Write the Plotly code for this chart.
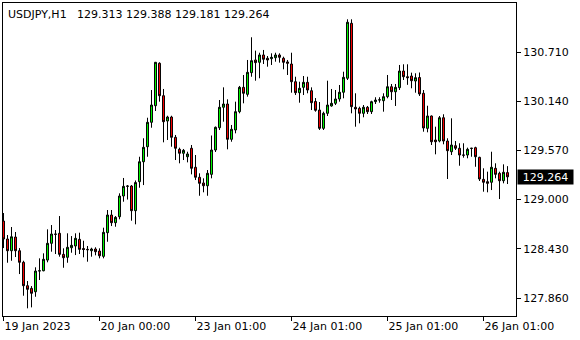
import plotly.graph_objects as go

opens = [128.752,128.544,128.408,128.567,128.408,128.274,128.003,127.972,127.933,128.173,
         128.176,128.300,128.494,128.602,128.610,128.366,128.332,128.443,128.463,128.540,
         128.434,128.424,128.408,128.428,128.405,128.343,128.617,128.822,128.733,128.802,
         129.042,129.158,129.158,128.872,129.208,129.439,129.613,129.896,130.088,130.580,
         130.204,129.911,129.957,129.722,129.583,129.537,129.497,129.595,129.375,129.259,
         129.193,129.161,129.293,129.575,129.833,130.070,130.108,129.699,129.807,130.019,
         130.301,130.220,130.471,130.618,130.591,130.676,130.638,130.633,130.644,130.676,
         130.638,130.595,130.571,130.366,130.239,130.301,130.359,130.262,130.137,130.038,
         129.826,130.000,130.085,130.116,130.166,130.244,130.406,131.043,130.070,130.058,
         130.000,130.070,130.019,130.135,130.154,130.146,130.193,130.308,130.250,130.297,
         130.490,130.424,130.432,130.374,130.415,130.232,129.826,129.969,129.691,129.679,
         129.949,129.679,129.555,129.625,129.595,129.517,129.517,129.593,129.602,129.490,
         129.235,129.208,129.201,129.363,129.305,129.219,129.313]
highs = [128.845,128.590,128.683,128.625,128.439,128.292,128.057,127.999,128.216,128.320,
         128.378,128.656,128.706,128.648,128.810,128.436,128.610,128.578,128.610,128.617,
         128.524,128.463,128.443,128.448,128.436,128.675,128.880,128.880,128.810,129.073,
         129.251,129.169,129.169,129.222,129.497,129.711,129.949,130.270,130.595,130.591,
         130.282,129.972,129.972,129.749,129.602,129.587,129.555,129.633,129.517,129.305,
         129.247,129.343,129.743,129.847,130.154,130.301,130.162,129.865,130.135,130.317,
         130.444,130.618,130.881,130.726,130.702,130.734,130.664,130.695,130.702,130.695,
         130.656,130.618,130.702,130.424,130.366,130.432,130.424,130.301,130.177,130.131,
         130.019,130.378,130.282,130.270,130.328,130.482,131.089,131.089,130.232,130.077,
         130.096,130.085,130.146,130.186,130.186,130.232,130.444,130.340,130.340,130.560,
         130.568,130.568,130.471,130.464,130.473,130.270,130.088,129.975,129.845,129.969,
         129.989,129.711,129.942,129.679,129.653,129.653,129.602,129.600,129.613,129.497,
         129.363,129.324,129.555,129.421,129.324,129.409,129.388]
lows = [128.439,128.269,128.292,128.335,128.138,127.887,127.741,127.752,127.875,128.069,
        128.170,128.274,128.397,128.370,128.339,128.211,128.269,128.385,128.358,128.370,
        128.332,128.281,128.339,128.355,128.320,128.320,128.512,128.694,128.686,128.772,
        128.976,129.001,128.756,128.714,129.138,129.169,129.497,129.833,130.027,130.135,
        129.664,129.691,129.613,129.459,129.421,129.459,129.432,129.293,129.227,129.045,
        129.085,129.045,129.247,129.552,129.807,129.903,129.583,129.671,129.768,130.000,
        130.116,130.193,130.424,130.378,130.406,130.571,130.540,130.560,130.598,130.587,
        130.510,130.444,130.239,130.212,130.123,130.212,130.232,130.038,130.019,129.807,
        129.807,129.969,130.077,130.096,130.135,130.174,130.386,130.000,129.845,129.884,
        129.954,129.992,129.992,130.108,130.123,130.019,130.174,130.154,130.085,130.270,
        130.386,130.330,130.290,130.239,130.201,129.787,129.780,129.633,129.525,129.664,
        129.641,129.239,129.517,129.575,129.393,129.486,129.479,129.497,129.381,129.216,
        129.092,129.085,129.111,129.247,129.007,129.189,129.181]
closes = [128.544,128.408,128.570,128.408,128.274,128.003,127.961,127.915,128.173,128.176,
          128.309,128.494,128.602,128.598,128.366,128.327,128.448,128.471,128.552,128.424,
          128.422,128.420,128.428,128.397,128.350,128.621,128.822,128.733,128.795,129.042,
          129.154,129.155,128.872,129.198,129.439,129.606,129.896,130.096,130.591,130.204,
          129.903,129.957,129.722,129.595,129.537,129.571,129.529,129.363,129.259,129.189,
          129.161,129.305,129.575,129.838,130.070,130.108,129.699,129.815,130.019,130.301,
          130.232,130.475,130.610,130.587,130.676,130.626,130.618,130.649,130.676,130.649,
          130.591,130.580,130.366,130.239,130.290,130.359,130.270,130.123,130.035,129.826,
          130.000,130.096,130.116,130.166,130.244,130.417,131.055,130.077,130.050,130.000,
          130.070,130.019,130.135,130.154,130.156,130.193,130.308,130.250,130.301,130.490,
          130.424,130.413,130.378,130.413,130.224,129.830,129.969,129.671,129.671,129.949,
          129.679,129.567,129.633,129.595,129.517,129.515,129.583,129.595,129.497,129.239,
          129.201,129.189,129.375,129.293,129.219,129.317,129.264]

bars = list(range(len(opens)))
x_tick_bars = [0, 24, 48, 72, 96, 120]
x_tick_labels = ["19 Jan 2023", "20 Jan 00:00", "23 Jan 01:00", "24 Jan 01:00", "25 Jan 01:00", "26 Jan 01:00"]
y_tick_vals = [127.860, 128.430, 129.000, 129.570, 130.140, 130.710]
symbol = "USDJPY,H1"
last_price = closes[-1]

fig = go.Figure(go.Candlestick(
    x=bars, open=opens, high=highs, low=lows, close=closes,
    increasing=dict(line=dict(color="black", width=1), fillcolor="#00FF00"),
    decreasing=dict(line=dict(color="black", width=1), fillcolor="#FF0000"),
    whiskerwidth=0,
))

axis_font = dict(family="DejaVu Sans", size=11, color="black")
title_text = (symbol + "\u00a0\u00a0\u00a0" +
              "\u00a0".join(f"{v:.3f}" for v in [opens[-1], highs[-1], lows[-1], closes[-1]]))

fig.update_layout(
    width=580, height=340,
    margin=dict(l=3, r=64, t=3, b=24),
    paper_bgcolor="white", plot_bgcolor="white",
    showlegend=False,
    boxgap=0.3,
    xaxis=dict(
        range=[-0.125, 128.125], rangeslider=dict(visible=False),
        tickmode="array", tickvals=x_tick_bars, ticktext=x_tick_labels,
        ticks="outside", ticklen=4, tickcolor="black", tickwidth=1,
        ticklabelposition="outside right",
        showgrid=False, zeroline=False,
        showline=True, linecolor="black", linewidth=1, mirror=True,
        tickfont=axis_font,
    ),
    yaxis=dict(
        side="right", range=[127.652, 131.278],
        tickmode="array", tickvals=y_tick_vals, tickformat=".3f",
        ticks="outside", ticklen=4, tickcolor="black", tickwidth=1,
        showgrid=False, zeroline=False,
        showline=True, linecolor="black", linewidth=1, mirror=True,
        tickfont=axis_font,
    ),
    annotations=[
        dict(xref="paper", yref="paper", x=0, y=1, xanchor="left", yanchor="top",
             xshift=3, yshift=-3, showarrow=False, text=title_text,
             font=dict(family="DejaVu Sans", size=11, color="black")),
        dict(xref="paper", yref="y", x=1, y=last_price, xanchor="left", yanchor="middle",
             xshift=1, showarrow=False, text=f"{last_price:.3f}",
             bgcolor="black", width=55, height=14, borderpad=0, align="center",
             font=dict(family="DejaVu Sans", size=11, color="white")),
    ],
)

fig.write_html("out.html")
